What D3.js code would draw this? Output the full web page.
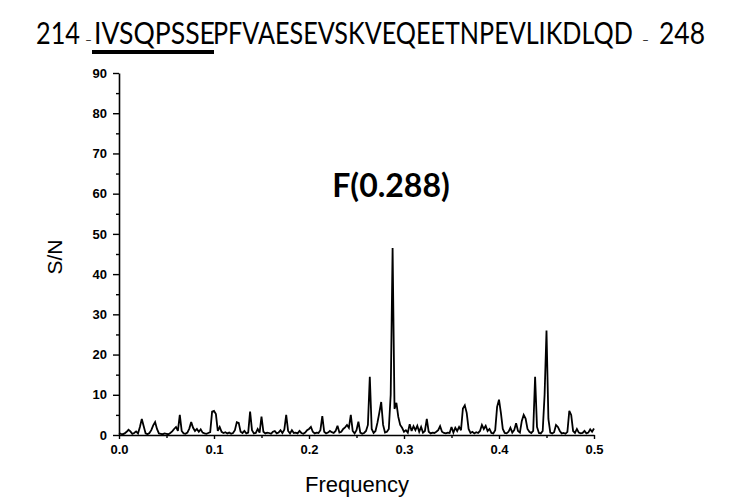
<!DOCTYPE html>
<html><head><meta charset="utf-8">
<script src="https://cdn.jsdelivr.net/npm/d3@7"></script>
<style>body{margin:0;background:#fff}svg{display:block}</style>
</head><body><svg id="c" width="735" height="498"></svg>
<script>
// ---- data ----
const titleStart = "214";
const titleEnd = "248";
const motif = "IVSQPSSE";
const restSeq = "PFVAESEVSKVEQEETNPEVLIKDLQD";
const annotation = "F(0.288)";
const xLabel = "Frequency";
const yLabel = "S/N";
const xTicks = [0, 0.1, 0.2, 0.3, 0.4, 0.5];
const xMinorTicks = [0.05, 0.15, 0.25, 0.35, 0.45];
const yTicks = [0, 10, 20, 30, 40, 50, 60, 70, 80, 90];
const yMinorTicks = [5, 15, 25, 35, 45, 55, 65, 75, 85];
const freqStart = 0, freqStep = 0.002;   // sampling of the spectrum
const snValues = [
  0.5,0.3,0.2,0.4,0.8,1.3,0.9,0.3,0.5,0.9,
  0.4,2.0,4.0,2.2,0.4,0.2,0.5,1.2,2.4,3.2,
  1.5,0.4,0.3,0.2,0.4,0.3,0.2,0.5,0.9,1.5,
  2.0,1.0,5.0,1.0,0.4,0.3,0.6,1.6,3.2,1.8,
  1.0,1.5,0.8,1.4,0.6,0.4,0.3,0.5,0.7,5.8,
  6.0,5.2,1.0,2.0,0.8,0.5,0.7,0.4,0.6,0.3,
  0.5,1.2,3.2,3.0,0.8,0.5,1.0,0.4,0.6,5.8,
  1.2,0.4,0.5,1.5,0.6,4.6,0.8,0.4,0.6,0.5,
  0.3,0.8,1.0,0.4,0.6,1.2,0.5,1.3,5.0,1.0,
  0.4,1.2,0.5,0.6,0.4,1.0,0.5,0.3,0.6,1.2,
  1.5,2.0,0.8,0.4,0.6,0.5,1.2,4.7,0.8,0.4,
  0.6,1.0,0.7,0.5,1.0,2.3,0.6,0.8,1.5,1.9,
  2.5,1.8,5.0,1.0,0.4,1.2,3.3,0.6,0.3,0.5,
  1.0,2.5,14.5,1.5,0.5,1.0,3.0,5.5,8.2,2.5,
  0.6,0.8,1.5,10.0,46.5,6.5,8.0,4.5,2.5,1.8,
  0.8,1.2,0.6,2.7,1.0,2.2,1.2,2.3,0.8,2.0,
  0.6,1.0,4.0,0.8,0.4,0.6,0.5,0.8,1.2,2.2,
  0.8,0.5,0.4,0.6,0.5,2.0,0.6,1.8,1.0,2.0,
  1.2,6.6,7.4,5.5,1.5,0.5,0.8,0.4,0.7,0.5,
  1.0,2.5,1.5,2.3,1.0,1.5,0.5,0.4,1.2,7.0,
  8.8,5.5,1.5,0.5,0.4,0.8,1.8,0.6,1.2,2.9,
  1.0,0.6,3.5,5.0,4.1,1.5,0.8,0.5,1.0,14.5,
  2.0,0.5,0.4,1.0,10.0,26.0,4.0,0.6,0.4,0.7,
  2.5,2.0,1.0,0.4,0.5,0.3,0.8,6.0,5.0,1.0,
  0.5,1.5,0.6,0.4,0.5,1.0,0.4,0.6,1.4,0.8,
  1.6
];

// ---- chart ----
const svg = d3.select("#c");
const x = d3.scaleLinear().domain([0, 0.5]).range([119, 594]);
const y = d3.scaleLinear().domain([0, 90]).range([435, 73]);

// title: each piece squeezed horizontally to the reference's narrow face
const titleFont = "Lato, 'Open Sans', sans-serif";
const tBase = 44;
function fitText(str, x0, width, size) {
  const t = svg.append("text").attr("font-family", titleFont).attr("font-size", size).text(str);
  const w = t.node().getComputedTextLength();
  const k = width ? width / w : 1;
  t.attr("transform", `translate(${x0},${tBase}) scale(${k},1)`);
  return t;
}
fitText(titleStart, 36, 44, 31);
fitText("–", 85, 7, 12);
fitText(motif, 94, 121, 31);
fitText(restSeq, 213, 420, 31);
fitText("–", 642, 7, 12);
fitText(titleEnd, 659, 46, 31);
svg.append("line").attr("x1", 92).attr("x2", 214).attr("y1", 52).attr("y2", 52)
  .attr("stroke", "#000").attr("stroke-width", 4);

// axes
const tickFont = "'Liberation Sans', Arial, sans-serif";
svg.append("g").attr("transform", "translate(119,0)")
  .call(d3.axisLeft(y).tickValues(yTicks).tickSize(6).tickSizeOuter(0).tickPadding(6).tickFormat(d3.format("d")));
svg.append("g").attr("transform", "translate(119,0)")
  .call(d3.axisLeft(y).tickValues(yMinorTicks).tickSize(3).tickSizeOuter(0).tickFormat(""))
  .select(".domain").remove();
svg.append("g").attr("transform", "translate(0,435)")
  .call(d3.axisBottom(x).tickValues(xTicks).tickSize(4).tickSizeOuter(0).tickPadding(6).tickFormat(d3.format(".1f")));
svg.append("g").attr("transform", "translate(0,435)")
  .call(d3.axisBottom(x).tickValues(xMinorTicks).tickSize(3).tickSizeOuter(0).tickFormat(""))
  .select(".domain").remove();
svg.selectAll(".domain").attr("stroke", "#000").attr("stroke-width", 1.6);
svg.selectAll(".tick line").attr("stroke", "#000").attr("stroke-width", 1.4);
svg.selectAll(".tick text").attr("font-family", tickFont).attr("font-weight", "bold")
  .attr("font-size", 13).attr("fill", "#000");

// spectrum line
const line = d3.line()
  .x((d, i) => x(freqStart + i * freqStep))
  .y(d => y(d));
svg.append("path").datum(snValues).attr("d", line)
  .attr("fill", "none").attr("stroke", "#000").attr("stroke-width", 1.8)
  .attr("stroke-linejoin", "miter").attr("stroke-miterlimit", 3);

// labels
svg.append("text").attr("transform", "translate(62,257) rotate(-90)")
  .attr("text-anchor", "middle").attr("font-family", tickFont).attr("font-size", 21).text(yLabel);
svg.append("text").attr("x", 357).attr("y", 492).attr("text-anchor", "middle")
  .attr("font-family", tickFont).attr("font-size", 22).text(xLabel);
svg.append("text").attr("x", 391).attr("y", 197).attr("text-anchor", "middle")
  .attr("font-family", titleFont).attr("font-weight", "bold").attr("font-size", 32).text(annotation);
</script></body></html>
